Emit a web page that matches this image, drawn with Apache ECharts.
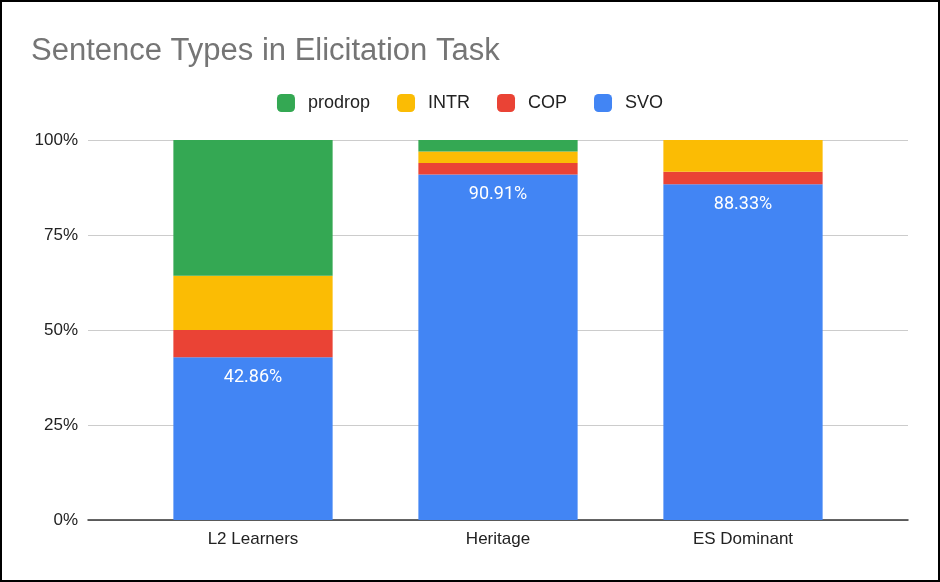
<!DOCTYPE html>
<html>
<head>
<meta charset="utf-8">
<script src="https://cdn.jsdelivr.net/npm/echarts@6/dist/echarts.min.js"></script>
<style>
html,body{margin:0;padding:0;background:#fff;}
#c{width:940px;height:582px;}
</style>
</head>
<body>
<div id="c"></div>
<script>
const categories = ['L2 Learners', 'Heritage', 'ES Dominant'];
const svo = [42.86, 90.91, 88.33];
const cop = [7.14, 3.03, 3.33];
const intr = [14.29, 3.03, 8.33];
const prodrop = [35.71, 3.03, 0];
const yTicks = [0, 25, 50, 75, 100];

const chart = echarts.init(document.getElementById('c'), null, {renderer: 'canvas'});
const font = 'Arial, "Liberation Sans", sans-serif';
function s(name, data, color, extra) {
  return Object.assign({
    name: name, type: 'bar', stack: 'total', data: data,
    xAxisIndex: 1, yAxisIndex: 1, barWidth: '65%',
    itemStyle: {color: color}
  }, extra || {});
}
chart.setOption({
  animation: false,
  title: {
    text: 'Sentence Types in Elicitation Task',
    left: 26, top: 31,
    textStyle: {fontFamily: font, fontSize: 31, fontWeight: 'normal', color: '#757575'}
  },
  legend: {
    data: ['prodrop', 'INTR', 'COP', 'SVO'],
    top: 89, left: 'center',
    itemWidth: 18, itemHeight: 18, itemGap: 27,
    icon: 'roundRect',
    textStyle: {fontFamily: font, fontSize: 18, color: '#222', padding: [0, 0, 0, 8]}
  },
  grid: [
    {left: 88, right: 32, top: 140, bottom: 62},
    {left: 130.5, right: 74.5, top: 140, bottom: 62}
  ],
  xAxis: [
    {type: 'category', gridIndex: 0, data: categories,
     axisLine: {show: true, lineStyle: {color: '#333', width: 1.5}},
     axisTick: {show: false}, axisLabel: {show: false}},
    {type: 'category', gridIndex: 1, data: categories,
     axisLine: {show: false}, axisTick: {show: false},
     axisLabel: {fontFamily: font, fontSize: 17, color: '#222', margin: 11}}
  ],
  yAxis: [
    {type: 'value', gridIndex: 0, min: yTicks[0], max: yTicks[yTicks.length - 1], interval: 25,
     axisLine: {show: false}, axisTick: {show: false},
     axisLabel: {formatter: '{value}%', fontFamily: font, fontSize: 17, color: '#222', margin: 10},
     splitLine: {lineStyle: {color: '#cccccc', width: 1}}},
    {type: 'value', gridIndex: 1, min: 0, max: 100, show: false}
  ],
  series: [
    s('SVO', svo, '#4285f4', {
      label: {show: true, position: 'insideTop', distance: 11, color: '#fff',
              fontFamily: 'Roboto, Arial, sans-serif', fontSize: 18, formatter: p => p.value + '%'}
    }),
    s('COP', cop, '#ea4335'),
    s('INTR', intr, '#fbbc04'),
    s('prodrop', prodrop, '#34a853'),
    {type: 'bar', xAxisIndex: 0, yAxisIndex: 0, data: [], silent: true}
  ],
  graphic: [{
    type: 'rect', shape: {x: 1, y: 1, width: 938, height: 580},
    style: {fill: 'none', stroke: '#000', lineWidth: 2}, silent: true, z: 100
  }]
});
</script>
</body>
</html>
